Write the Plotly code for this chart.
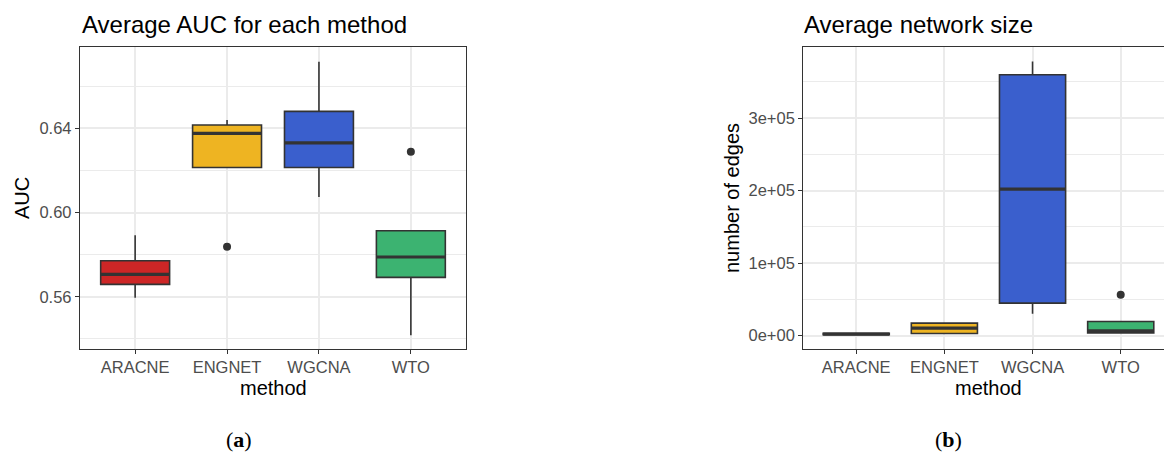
import plotly.graph_objects as go

W, H = 1164, 455

methods = ["ARACNE", "ENGNET", "WGCNA", "WTO"]
colors = ["#CD2626", "#EEB422", "#3A5FCD", "#3CB371"]

# Panel (a): AUC box statistics
auc_low = [0.5595, 0.6214, 0.6074, 0.5417]
auc_q1 = [0.5659, 0.6214, 0.6214, 0.5692]
auc_med = [0.5706, 0.6376, 0.6331, 0.5789]
auc_q3 = [0.5771, 0.6416, 0.6481, 0.5914]
auc_high = [0.5892, 0.6440, 0.6717, 0.5914]
auc_out_method = ["ENGNET", "WTO"]
auc_out_val = [0.5838, 0.6289]

# Panel (b): network size box statistics
edge_low = [500, 2760, 29900, 3700]
edge_q1 = [1000, 2760, 44700, 3700]
edge_med = [2000, 10200, 202000, 6500]
edge_q3 = [3000, 17100, 359700, 19300]
edge_high = [3500, 17100, 378100, 19300]
edge_out_method = ["WTO"]
edge_out_val = [56200]

auc_ticks = [0.56, 0.60, 0.64]
auc_ticktext = ["0.56", "0.60", "0.64"]
edge_ticks = [0, 100000, 200000, 300000]
edge_ticktext = ["0e+00", "1e+05", "2e+05", "3e+05"]

BOXW = 0.75
LINE = "#333333"


def px_x(p):
    return p / W


def px_y(p):
    return 1 - p / H


fig = go.Figure()


def add_panel(xa, ya, low, q1, med, q3, high, out_m, out_v):
    for i, m in enumerate(methods):
        fig.add_trace(go.Box(
            x=[i], q1=[q1[i]], median=[med[i]], q3=[q3[i]],
            lowerfence=[low[i]], upperfence=[high[i]],
            width=BOXW, whiskerwidth=0, boxpoints=False,
            fillcolor=colors[i], line=dict(color=LINE, width=1.6),
            xaxis=xa, yaxis=ya, showlegend=False, hoverinfo="skip"))
        fig.add_trace(go.Scatter(
            x=[i - BOXW / 2, i + BOXW / 2], y=[med[i], med[i]],
            mode="lines", line=dict(color=LINE, width=3.2),
            xaxis=xa, yaxis=ya, showlegend=False, hoverinfo="skip"))
    fig.add_trace(go.Scatter(
        x=[methods.index(m) for m in out_m], y=out_v, mode="markers",
        marker=dict(color=LINE, size=8),
        xaxis=xa, yaxis=ya, showlegend=False, hoverinfo="skip"))


add_panel("x", "y", auc_low, auc_q1, auc_med, auc_q3, auc_high,
          auc_out_method, auc_out_val)
add_panel("x2", "y2", edge_low, edge_q1, edge_med, edge_q3, edge_high,
          edge_out_method, edge_out_val)

tickfont = dict(family="Liberation Sans, Arial, sans-serif", size=16.5, color="#4D4D4D")
ydom = [px_y(348.5), px_y(47)]

common_x = dict(
    tickvals=list(range(len(methods))), ticktext=methods,
    showgrid=True, gridcolor="#EBEBEB", gridwidth=1.5,
    zeroline=False, showline=True, linecolor=LINE, linewidth=1.3,
    ticks="outside", ticklen=4, tickcolor=LINE, tickwidth=1.1,
    tickfont=tickfont, fixedrange=True,
)
common_y = dict(
    showgrid=True, gridcolor="#EBEBEB", gridwidth=1.5,
    zeroline=False, showline=True, linecolor=LINE, linewidth=1.3,
    ticks="outside", ticklen=4, tickcolor=LINE, tickwidth=1.1,
    tickfont=tickfont, fixedrange=True,
)

fig.update_layout(
    width=W, height=H, margin=dict(l=0, r=0, t=0, b=0),
    paper_bgcolor="white", plot_bgcolor="white",
    xaxis=dict(domain=[px_x(80), px_x(466)], range=[-0.6, 3.6],
               mirror=True, anchor="y", **common_x),
    yaxis=dict(domain=ydom, range=[0.5354, 0.6787], anchor="x",
               tickvals=auc_ticks, ticktext=auc_ticktext, mirror=True,
               minor=dict(tickvals=[0.54, 0.58, 0.62, 0.66], showgrid=True,
                          gridcolor="#EBEBEB", gridwidth=0.8, ticks=""),
               **common_y),
    xaxis2=dict(domain=[px_x(803.3), 1.0],
                range=[-0.6, 3 + (1164 - 1120.7) / 88.2],
                mirror=True, anchor="y2", **common_x),
    yaxis2=dict(domain=ydom, range=[-17900, 398000], anchor="x2",
                tickvals=edge_ticks, ticktext=edge_ticktext, mirror=False,
                minor=dict(tickvals=[50000, 150000, 250000, 350000], showgrid=True,
                           gridcolor="#EBEBEB", gridwidth=0.8, ticks=""),
                **common_y),
)

sans = "Liberation Sans, Arial, sans-serif"
ann = [
    dict(text="Average AUC for each method", x=px_x(80), y=px_y(24),
         xanchor="left", yanchor="middle", font=dict(family=sans, size=24, color="black")),
    dict(text="Average network size", x=px_x(802), y=px_y(24),
         xanchor="left", yanchor="middle", font=dict(family=sans, size=24, color="black")),
    dict(text="AUC", x=px_x(22), y=px_y(198), textangle=-90,
         xanchor="center", yanchor="middle", font=dict(family=sans, size=20, color="black")),
    dict(text="number of edges", x=px_x(732), y=px_y(198), textangle=-90,
         xanchor="center", yanchor="middle", font=dict(family=sans, size=20, color="black")),
    dict(text="method", x=px_x(273), y=px_y(388),
         xanchor="center", yanchor="middle", font=dict(family=sans, size=20, color="black")),
    dict(text="method", x=px_x(988), y=px_y(388),
         xanchor="center", yanchor="middle", font=dict(family=sans, size=20, color="black")),
    dict(text="(<b>a</b>)", x=px_x(239), y=px_y(439),
         xanchor="center", yanchor="middle",
         font=dict(family="Liberation Serif, serif", size=22, color="black")),
    dict(text="(<b>b</b>)", x=px_x(948), y=px_y(439),
         xanchor="center", yanchor="middle",
         font=dict(family="Liberation Serif, serif", size=22, color="black")),
]
for a in ann:
    a.update(xref="paper", yref="paper", showarrow=False)
fig.update_layout(annotations=ann)

fig.write_html("out.html")
